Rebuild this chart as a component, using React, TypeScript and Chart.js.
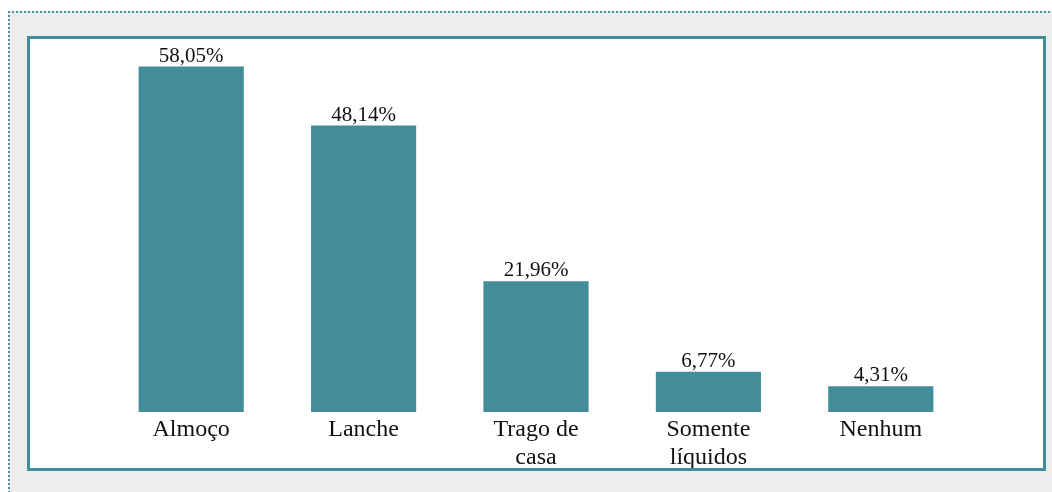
import React, { useEffect, useRef } from "react";
import { Chart, registerables } from "chart.js";

Chart.register(...registerables);

const categories: (string | string[])[] = [
  "Almoço",
  "Lanche",
  ["Trago de", "casa"],
  ["Somente", "líquidos"],
  "Nenhum",
];
const values: number[] = [58.05, 48.14, 21.96, 6.77, 4.31];
const valueLabels: string[] = ["58,05%", "48,14%", "21,96%", "6,77%", "4,31%"];

const TEAL = "#438d9b";
const FONT = '"Liberation Serif", "DejaVu Serif", serif';

const valueLabelPlugin = {
  id: "valueLabels",
  afterDatasetsDraw(chart: any) {
    const ctx = chart.ctx;
    const meta = chart.getDatasetMeta(0);
    ctx.save();
    ctx.font = `21px ${FONT}`;
    ctx.fillStyle = "#111";
    ctx.textAlign = "center";
    ctx.textBaseline = "alphabetic";
    meta.data.forEach((bar: any, i: number) => {
      ctx.fillText(valueLabels[i], bar.x, bar.y - 5);
    });
    ctx.restore();
  },
};

export default function App() {
  const ref = useRef<HTMLCanvasElement | null>(null);

  useEffect(() => {
    if (!ref.current) return;
    const chart = new Chart(ref.current, {
      type: "bar",
      data: {
        labels: categories,
        datasets: [
          {
            data: values,
            backgroundColor: TEAL,
            borderWidth: 0,
            categoryPercentage: 1,
            barPercentage: 0.61,
          },
        ],
      },
      options: {
        animation: false,
        responsive: false,
        maintainAspectRatio: false,
        layout: { padding: { left: 75, right: 76, top: 16, bottom: 0 } },
        plugins: {
          legend: { display: false },
          tooltip: { enabled: false },
        },
        scales: {
          x: {
            grid: { display: false, drawTicks: false },
            border: { display: false },
            ticks: {
              color: "#111",
              padding: 4,
              maxRotation: 0,
              autoSkip: false,
              font: { family: FONT, size: 24, lineHeight: 1.15 },
            },
            afterFit(scale: any) {
              scale.height = 56;
            },
          },
          y: {
            display: false,
            min: 0,
            max: 60,
          },
        },
      },
      plugins: [valueLabelPlugin],
    });
    return () => chart.destroy();
  }, []);

  return (
    <div
      style={{
        position: "absolute",
        left: 8,
        top: 11,
        width: 1060,
        height: 500,
        background: "#eeedeb",
        borderTop: "2px dotted #4a8fa0",
        borderLeft: "2px dotted #4a8fa0",
      }}
    >
      <div
        style={{
          position: "absolute",
          left: 17,
          top: 23,
          width: 1013,
          height: 429,
          background: "#ffffff",
          border: "3px solid " + TEAL,
        }}
      >
        <canvas ref={ref} width={1013} height={429} style={{ display: "block" }} />
      </div>
    </div>
  );
}
